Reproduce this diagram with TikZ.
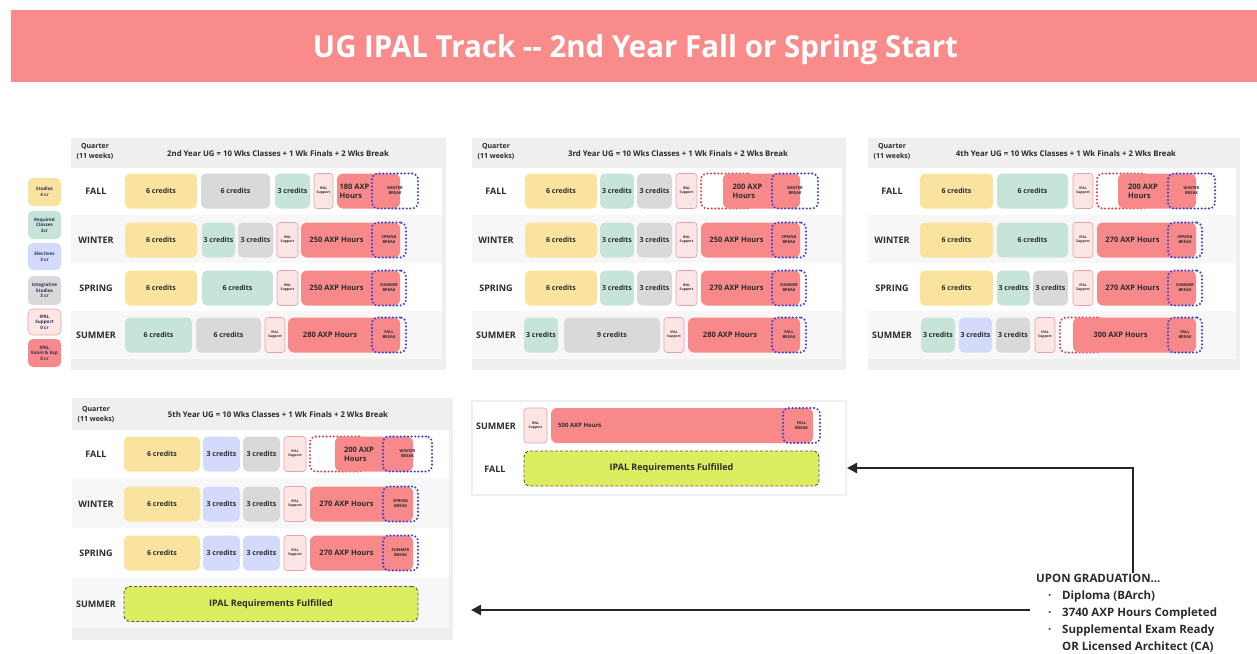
\documentclass[tikz,border=0pt]{standalone}
\usepackage{fontspec}
\setmainfont{Open Sans}
\usetikzlibrary{arrows.meta}
\definecolor{ctitle}{HTML}{F98C8B}
\definecolor{cyel}{HTML}{FAE39F}
\definecolor{ctea}{HTML}{C6E5D8}
\definecolor{cgry}{HTML}{D9D9D9}
\definecolor{clav}{HTML}{D4DAFB}
\definecolor{cipal}{HTML}{FDE5E5}
\definecolor{cipalb}{HTML}{E6A3A3}
\definecolor{cred}{HTML}{F7898B}
\definecolor{cblue}{HTML}{3A3FD6}
\definecolor{crdot}{HTML}{D9434B}
\definecolor{cgrn}{HTML}{DCEE5F}
\definecolor{cgrnb}{HTML}{555555}
\definecolor{cpanel}{HTML}{EFEFEF}
\definecolor{calt}{HTML}{F7F7F7}
\definecolor{ctxt}{HTML}{2B2B2B}
\definecolor{clg}{HTML}{2A2F5A}
\newcommand\fcred{\bfseries\fontsize{7}{8}\selectfont}
\newcommand\fredt{\bfseries\fontsize{7.5}{9}\selectfont}
\newcommand\fbrk{\bfseries\fontsize{4}{5}\selectfont}
\newcommand\fipal{\bfseries\fontsize{3.4}{4.2}\selectfont}
\newcommand\fqq{\bfseries\fontsize{9}{10}\selectfont}
\newcommand\fhead{\bfseries\fontsize{7.8}{10}\selectfont}
\newcommand\flg{\bfseries\fontsize{4.6}{5.6}\selectfont}
\tikzset{
  cb/.style={rounded corners=5pt, inner sep=0pt, align=center, font=\fcred, text=ctxt},
  yel/.style={cb, fill=cyel},
  tea/.style={cb, fill=ctea},
  gry/.style={cb, fill=cgry},
  lav/.style={cb, fill=clav},
  ipal/.style={cb, fill=cipal, draw=cipalb, line width=0.6pt, font=\fipal, rounded corners=3pt},
  redb/.style={cb, fill=cred, rounded corners=6pt},
  redtxt/.style={inner sep=0pt, align=left, font=\fredt, text=ctxt},
  brk/.style={rounded corners=6pt, draw=cblue, line width=2.3pt, dash pattern=on 0pt off 3.6pt, line cap=round, inner sep=0pt, align=center, font=\fbrk, text=ctxt},
  rdot/.style={rounded corners=6pt, draw=crdot, line width=2.3pt, dash pattern=on 0pt off 3.6pt, line cap=round, fill=white, inner sep=0pt},
  grn/.style={rounded corners=6pt, fill=cgrn, draw=cgrnb, dash pattern=on 3pt off 2pt, line width=0.9pt, inner sep=0pt, font=\bfseries\fontsize{9}{10}\selectfont, text=ctxt},
  qlab/.style={inner sep=0pt, font=\fqq, text=ctxt},
  qhead/.style={inner sep=0pt, align=center, font=\bfseries\fontsize{7}{10}\selectfont, text=ctxt},
  hhead/.style={inner sep=0pt, font=\fhead, text=ctxt},
  panel/.style={fill=cpanel, inner sep=0pt},
  lg/.style={rounded corners=5pt, inner sep=0pt, align=center, font=\flg, text=clg, minimum width=33pt},
  conn/.style={line width=2.6pt, draw=black!85, -{Triangle[length=10pt,width=10pt]}}
}
\newcounter{nb}
\newcommand\mkbox[5]{\stepcounter{nb}\node[#1,minimum width={(#3-#2)*1pt},minimum height=35pt] (n\arabic{nb}) at ({(#2+#3)/2},#4) {#5};}
\newcommand\mkred[7]{\mkbox{redb}{#1}{#2}{#3}{}\stepcounter{nb}\node[redtxt] (n\arabic{nb}) at ({(#1+#5)/2},#3) {#4};\mkbox{brk}{#5}{#6}{#3}{#7}}
\newcommand\mkredd[8]{\mkbox{rdot}{#1}{#2+30}{#4}{}\mkbox{redb}{#2}{#3}{#4}{}\stepcounter{nb}\node[redtxt] (n\arabic{nb}) at ({(#2+#6)/2},#4) {#5};\mkbox{brk}{#6}{#7}{#4}{#8}}
\newcommand\mkq[3]{\stepcounter{nb}\node[qlab] (n\arabic{nb}) at (#1,#2) {#3};}
\newcommand\mklg[4]{\stepcounter{nb}\node[lg,#1,minimum height={(#3-#2)*1pt}] (n\arabic{nb}) at (44.5,{(#2+#3)/2}) {#4};}
\begin{document}
\begin{tikzpicture}[x=1pt,y=-1pt]
\useasboundingbox (0,0) rectangle (1257,653);
\fill[white] (0,0) rectangle (1257,653);
% title
\node[fill=ctitle, minimum width=1246pt, minimum height=72pt, inner sep=0pt] (title) at (634,46) {};
\node[anchor=base, inner sep=0pt, text=white] (titletext) at (635.5,57) {\resizebox{645pt}{23pt}{\bfseries UG IPAL Track -{}- 2nd Year Fall or Spring Start}};
% panels
\node[panel, minimum width=375pt, minimum height=232pt] (p1) at (258.5,254) {};
\node[panel, minimum width=374pt, minimum height=232pt] (p2) at (659,254) {};
\node[panel, minimum width=372pt, minimum height=232pt] (p3) at (1054,254) {};
\node[panel, minimum width=381pt, minimum height=242pt] (p4) at (262.5,519) {};
\node[panel, minimum width=376pt, minimum height=96pt] (p5) at (659,448) {};
% bands
\foreach \xa/\xb in {71/442, 472/842, 868/1236} {
  \fill[white] (\xa,168) rectangle (\xb,215);
  \fill[calt] (\xa,215) rectangle (\xb,263);
  \fill[white] (\xa,263) rectangle (\xb,311);
  \fill[calt] (\xa,311) rectangle (\xb,359);
}
\fill[white] (72,430) rectangle (449,478);
\fill[calt] (72,478) rectangle (449,528);
\fill[white] (72,528) rectangle (449,578);
\fill[calt] (72,578) rectangle (449,628);
\fill[white] (473,402) rectangle (845,494);
% headers
\node[qhead] (q1) at (95,152) {Quarter\\(11 weeks)};
\node[qhead] (q2) at (496,152) {Quarter\\(11 weeks)};
\node[qhead] (q3) at (892,152) {Quarter\\(11 weeks)};
\node[qhead] (q4) at (96,415) {Quarter\\(11 weeks)};
\node[hhead] (h1) at (278,154) {2nd Year UG = 10 Wks Classes + 1 Wk Finals + 2 Wks Break};
\node[hhead] (h2) at (678,154) {3rd Year UG = 10 Wks Classes + 1 Wk Finals + 2 Wks Break};
\node[hhead] (h3) at (1066,154) {4th Year UG = 10 Wks Classes + 1 Wk Finals + 2 Wks Break};
\node[hhead] (h4) at (278,415) {5th Year UG = 10 Wks Classes + 1 Wk Finals + 2 Wks Break};
% row labels
\mkq{96}{191}{FALL}\mkq{96}{240}{WINTER}\mkq{96}{288}{SPRING}\mkq{96}{335}{SUMMER}
\mkq{496}{191}{FALL}\mkq{496}{240}{WINTER}\mkq{496}{288}{SPRING}\mkq{496}{335}{SUMMER}
\mkq{892}{191}{FALL}\mkq{892}{240}{WINTER}\mkq{892}{288}{SPRING}\mkq{892}{335}{SUMMER}
\mkq{96}{454}{FALL}\mkq{96}{504}{WINTER}\mkq{96}{553}{SPRING}\mkq{96}{604}{SUMMER}
\mkq{496}{426}{SUMMER}\mkq{495}{469}{FALL}
% panel 1
\mkbox{yel}{125}{197}{191}{6 credits}
\mkbox{gry}{201}{270}{191}{6 credits}
\mkbox{tea}{275}{310}{191}{3 credits}
\mkbox{ipal}{314}{333}{191}{IPAL\\Support}
\mkred{337}{400}{191}{180 AXP\\Hours}{372}{418}{WINTER\\BREAK}
\mkbox{yel}{125}{197}{240}{6 credits}
\mkbox{tea}{202}{235}{240}{3 credits}
\mkbox{gry}{238}{273}{240}{3 credits}
\mkbox{ipal}{277}{298}{240}{IPAL\\Support}
\mkred{301}{400}{240}{250 AXP Hours}{372}{406}{SPRING\\BREAK}
\mkbox{yel}{125}{197}{288}{6 credits}
\mkbox{tea}{202}{273}{288}{6 credits}
\mkbox{ipal}{277}{298}{288}{IPAL\\Support}
\mkred{301}{400}{288}{250 AXP Hours}{372}{406}{SUMMER\\BREAK}
\mkbox{tea}{125}{192}{335}{6 credits}
\mkbox{gry}{196}{261}{335}{6 credits}
\mkbox{ipal}{265}{285}{335}{IPAL\\Support}
\mkred{288}{400}{335}{280 AXP Hours}{372}{406}{FALL\\BREAK}
% panel 2
\mkbox{yel}{525}{597}{191}{6 credits}
\mkbox{tea}{600}{634}{191}{3 credits}
\mkbox{gry}{637}{672}{191}{3 credits}
\mkbox{ipal}{676}{697}{191}{IPAL\\Support}
\mkredd{701}{723}{800}{191}{200 AXP\\Hours}{772}{818}{WINTER\\BREAK}
\mkbox{yel}{525}{597}{240}{6 credits}
\mkbox{tea}{600}{634}{240}{3 credits}
\mkbox{gry}{637}{672}{240}{3 credits}
\mkbox{ipal}{676}{697}{240}{IPAL\\Support}
\mkred{701}{800}{240}{250 AXP Hours}{772}{806}{SPRING\\BREAK}
\mkbox{yel}{525}{597}{288}{6 credits}
\mkbox{tea}{600}{634}{288}{3 credits}
\mkbox{gry}{637}{672}{288}{3 credits}
\mkbox{ipal}{676}{697}{288}{IPAL\\Support}
\mkred{701}{800}{288}{270 AXP Hours}{772}{806}{SUMMER\\BREAK}
\mkbox{tea}{524}{558}{335}{3 credits}
\mkbox{gry}{564}{660}{335}{9 credits}
\mkbox{ipal}{664}{684}{335}{IPAL\\Support}
\mkred{688}{800}{335}{280 AXP Hours}{772}{806}{FALL\\BREAK}
% panel 3
\mkbox{yel}{920}{993}{191}{6 credits}
\mkbox{tea}{997}{1068}{191}{6 credits}
\mkbox{ipal}{1073}{1093}{191}{IPAL\\Support}
\mkredd{1097}{1118}{1196}{191}{200 AXP\\Hours}{1168}{1215}{WINTER\\BREAK}
\mkbox{yel}{920}{993}{240}{6 credits}
\mkbox{tea}{997}{1068}{240}{6 credits}
\mkbox{ipal}{1073}{1093}{240}{IPAL\\Support}
\mkred{1097}{1196}{240}{270 AXP Hours}{1168}{1202}{SPRING\\BREAK}
\mkbox{yel}{920}{993}{288}{6 credits}
\mkbox{tea}{997}{1030}{288}{3 credits}
\mkbox{gry}{1033}{1068}{288}{3 credits}
\mkbox{ipal}{1073}{1093}{288}{IPAL\\Support}
\mkred{1097}{1196}{288}{270 AXP Hours}{1168}{1202}{SUMMER\\BREAK}
\mkbox{tea}{921}{955}{335}{3 credits}
\mkbox{lav}{959}{992}{335}{3 credits}
\mkbox{gry}{996}{1030}{335}{3 credits}
\mkbox{ipal}{1035}{1055}{335}{IPAL\\Support}
\mkredd{1060}{1073}{1196}{335}{300 AXP Hours}{1168}{1202}{FALL\\BREAK}
% panel 4
\mkbox{yel}{124}{200}{454}{6 credits}
\mkbox{lav}{203}{240}{454}{3 credits}
\mkbox{gry}{243}{280}{454}{3 credits}
\mkbox{ipal}{284}{306}{454}{IPAL\\Support}
\mkredd{310}{335}{413}{454}{200 AXP\\Hours}{383}{432}{WINTER\\BREAK}
\mkbox{yel}{124}{200}{504}{6 credits}
\mkbox{lav}{203}{240}{504}{3 credits}
\mkbox{gry}{243}{280}{504}{3 credits}
\mkbox{ipal}{284}{306}{504}{IPAL\\Support}
\mkred{310}{413}{504}{270 AXP Hours}{383}{418}{SPRING\\BREAK}
\mkbox{yel}{124}{200}{553}{6 credits}
\mkbox{lav}{203}{240}{553}{3 credits}
\mkbox{lav}{243}{280}{553}{3 credits}
\mkbox{ipal}{284}{306}{553}{IPAL\\Support}
\mkred{310}{413}{553}{270 AXP Hours}{383}{418}{SUMMER\\BREAK}
\mkbox{grn}{124}{418}{604}{IPAL Requirements Fulfilled}
% panel 5
\mkbox{ipal}{524}{547}{425.5}{IPAL\\Support}
\mkbox{redb}{551}{813}{425.5}{}
\node[redtxt, anchor=west, font=\bfseries\fontsize{6}{7}\selectfont] (t500) at (558,425.5) {500 AXP Hours};
\mkbox{brk}{783}{820}{425.5}{FALL\\BREAK}
\mkbox{grn}{524}{819}{468.5}{IPAL Requirements Fulfilled}
% legend
\mklg{fill=cyel}{178}{206}{Studios\\4 cr}
\mklg{fill=ctea}{211}{239}{Required\\Classes\\3cr}
\mklg{fill=clav}{243}{270}{Electives\\3 cr}
\mklg{fill=cgry}{276}{305}{Integrative\\Studios\\3 cr}
\mklg{fill=cipal,draw=cipalb,line width=0.6pt}{309}{335}{IPAL\\Support\\0 cr}
\mklg{fill=cred}{339}{367}{IPAL\\Exam \& Exp\\0 cr}
% graduation text
\node[anchor=north west, align=left, inner sep=0pt, text=ctxt, font=\bfseries\fontsize{11.5}{17}\selectfont] (grad) at (1036,574)
 {UPON GRADUATION...\\
  \hspace{12pt}\makebox[14pt][l]{·}Diploma (BArch)\\
  \hspace{12pt}\makebox[14pt][l]{·}3740 AXP Hours Completed\\
  \hspace{12pt}\makebox[14pt][l]{·}Supplemental Exam Ready\\
  \hspace{26pt}OR Licensed Architect (CA)};
\coordinate (a1s) at (1133,573);
\coordinate (a1e) at (847,468);
\coordinate (a2s) at (1030,610);
\coordinate (a2e) at (471,610);
\draw[conn] (a1s) |- (a1e);
\draw[conn] (a2s) -- (a2e);
\end{tikzpicture}
\end{document}
